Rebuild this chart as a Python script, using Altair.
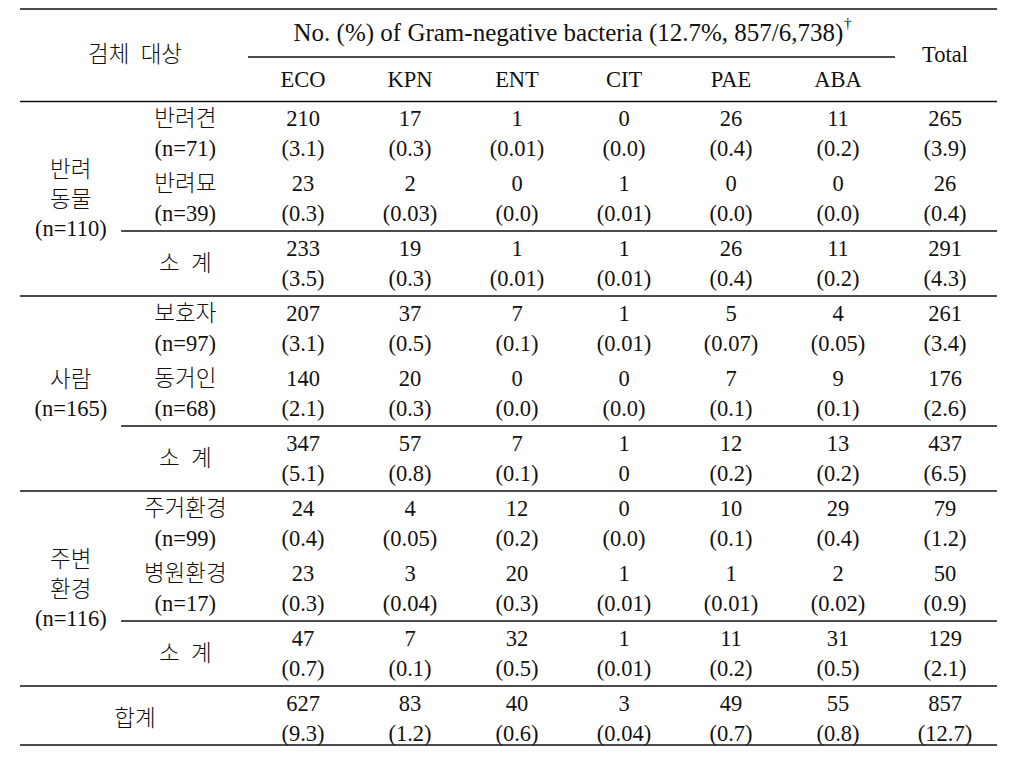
import altair as alt
import pandas as pd

# ---------------- data ----------------
columns = ["ECO", "KPN", "ENT", "CIT", "PAE", "ABA", "Total"]

sub_labels = ["반려견", "반려묘", "소\u2002계", "보호자", "동거인", "소\u2002계",
              "주거환경", "병원환경", "소\u2002계", "합계"]
sub_n = ["(n=71)", "(n=39)", "", "(n=97)", "(n=68)", "",
         "(n=99)", "(n=17)", "", ""]

groups = [["반려", "동물", "(n=110)"], ["사람", "(n=165)"], ["주변", "환경", "(n=116)"]]
group_first_row = [0, 3, 6]

counts = {
    "ECO":   [210, 23, 233, 207, 140, 347, 24, 23, 47, 627],
    "KPN":   [17, 2, 19, 37, 20, 57, 4, 3, 7, 83],
    "ENT":   [1, 0, 1, 7, 0, 7, 12, 20, 32, 40],
    "CIT":   [0, 1, 1, 1, 0, 1, 0, 1, 1, 3],
    "PAE":   [26, 0, 26, 5, 7, 12, 10, 1, 11, 49],
    "ABA":   [11, 0, 11, 4, 9, 13, 29, 2, 31, 55],
    "Total": [265, 26, 291, 261, 176, 437, 79, 50, 129, 857],
}
pcts = {
    "ECO":   ["(3.1)", "(0.3)", "(3.5)", "(3.1)", "(2.1)", "(5.1)", "(0.4)", "(0.3)", "(0.7)", "(9.3)"],
    "KPN":   ["(0.3)", "(0.03)", "(0.3)", "(0.5)", "(0.3)", "(0.8)", "(0.05)", "(0.04)", "(0.1)", "(1.2)"],
    "ENT":   ["(0.01)", "(0.0)", "(0.01)", "(0.1)", "(0.0)", "(0.1)", "(0.2)", "(0.3)", "(0.5)", "(0.6)"],
    "CIT":   ["(0.0)", "(0.01)", "(0.01)", "(0.01)", "(0.0)", "0", "(0.0)", "(0.01)", "(0.01)", "(0.04)"],
    "PAE":   ["(0.4)", "(0.0)", "(0.4)", "(0.07)", "(0.1)", "(0.2)", "(0.1)", "(0.01)", "(0.2)", "(0.7)"],
    "ABA":   ["(0.2)", "(0.0)", "(0.2)", "(0.05)", "(0.1)", "(0.2)", "(0.4)", "(0.02)", "(0.5)", "(0.8)"],
    "Total": ["(3.9)", "(0.4)", "(4.3)", "(3.4)", "(2.6)", "(6.5)", "(1.2)", "(0.9)", "(2.1)", "(12.7)"],
}

header_title = "No. (%) of Gram-negative bacteria (12.7%, 857/6,738)"
header_mark = "†"
header_left = "검체\u2002대상"

# ---------------- layout (table units: column index / row index) ----------------
LINE = 0.455          # second text line offset within a row
SUB_X = -1.10         # sub-label column
GRP_X = -2.17         # group label column
SUM_X = -1.57         # 합계 / 검체 대상 column
LEFT, RIGHT, MID = -2.645, 6.486, -1.70

recs = []
for ci, col in enumerate(columns):
    for r in range(10):
        recs.append({"x": ci, "y": r, "t": str(counts[col][r])})
        recs.append({"x": ci, "y": r + LINE, "t": pcts[col][r]})
for r, (a, b) in enumerate(zip(sub_labels, sub_n)):
    if r == 9:
        recs.append({"x": SUM_X, "y": r + LINE / 2, "t": a})
    elif b:
        recs.append({"x": SUB_X, "y": r, "t": a})
        recs.append({"x": SUB_X, "y": r + LINE, "t": b})
    else:
        recs.append({"x": SUB_X, "y": r + LINE / 2, "t": a})
for g, first in zip(groups, group_first_row):
    center = first + 1.24
    n = len(g)
    for k, t in enumerate(g):
        recs.append({"x": GRP_X, "y": center + (k - (n - 1) / 2) * 0.45, "t": t})
for ci, col in enumerate(columns[:-1]):
    recs.append({"x": ci, "y": -0.60, "t": col})
recs.append({"x": 6, "y": -0.985, "t": "Total"})
recs.append({"x": SUM_X, "y": -0.985, "t": header_left})
text_df = pd.DataFrame(recs)

title_df = pd.DataFrame([{"x": 5.05, "y": -1.33, "t": header_title}])
dag_df = pd.DataFrame([{"x": 5.055, "y": -1.47, "t": header_mark}])

rules_df = pd.DataFrame([
    {"x": LEFT, "x2": RIGHT, "y": -1.692},
    {"x": -0.514, "x2": 5.533, "y": -0.954},
    {"x": LEFT, "x2": RIGHT, "y": -0.27},
    {"x": MID, "x2": RIGHT, "y": 1.723},
    {"x": LEFT, "x2": RIGHT, "y": 2.723},
    {"x": MID, "x2": RIGHT, "y": 4.723},
    {"x": LEFT, "x2": RIGHT, "y": 5.723},
    {"x": MID, "x2": RIGHT, "y": 7.723},
    {"x": LEFT, "x2": RIGHT, "y": 8.723},
    {"x": LEFT, "x2": RIGHT, "y": 9.63},
])

W, H = 1008, 750
xs = alt.Scale(domain=[-295 / 107, (W - 295) / 107], nice=False, zero=False)
ys = alt.Scale(domain=[-111 / 65, (H - 111) / 65], nice=False, zero=False, reverse=True)
X = lambda f: alt.X(f, type="quantitative", scale=xs, axis=None)
Y = lambda f: alt.Y(f, type="quantitative", scale=ys, axis=None)

FONT = "Liberation Serif, Noto Sans CJK KR"
FS = 22.5

rules = alt.Chart(rules_df).mark_rule(color="#111", strokeWidth=1.4).encode(
    x=X("x"), x2="x2", y=Y("y"))
texts = alt.Chart(text_df).mark_text(font=FONT, fontSize=FS, color="#111",
                                     fontWeight=300,
                                     align="center", baseline="middle").encode(
    x=X("x"), y=Y("y"), text="t:N")
title = alt.Chart(title_df).mark_text(font=FONT, fontSize=25, color="#111",
                                      align="right", baseline="middle").encode(
    x=X("x"), y=Y("y"), text="t:N")
dag = alt.Chart(dag_df).mark_text(font=FONT, fontSize=15, color="#111",
                                  align="left", baseline="middle").encode(
    x=X("x"), y=Y("y"), text="t:N")

chart = alt.layer(rules, texts, title, dag).properties(
    width=W, height=H, padding=0,
    autosize=alt.AutoSizeParams(type="none"),
).configure_view(stroke=None)

chart.save("out.html", embed_options={"renderer": "svg", "actions": False})
